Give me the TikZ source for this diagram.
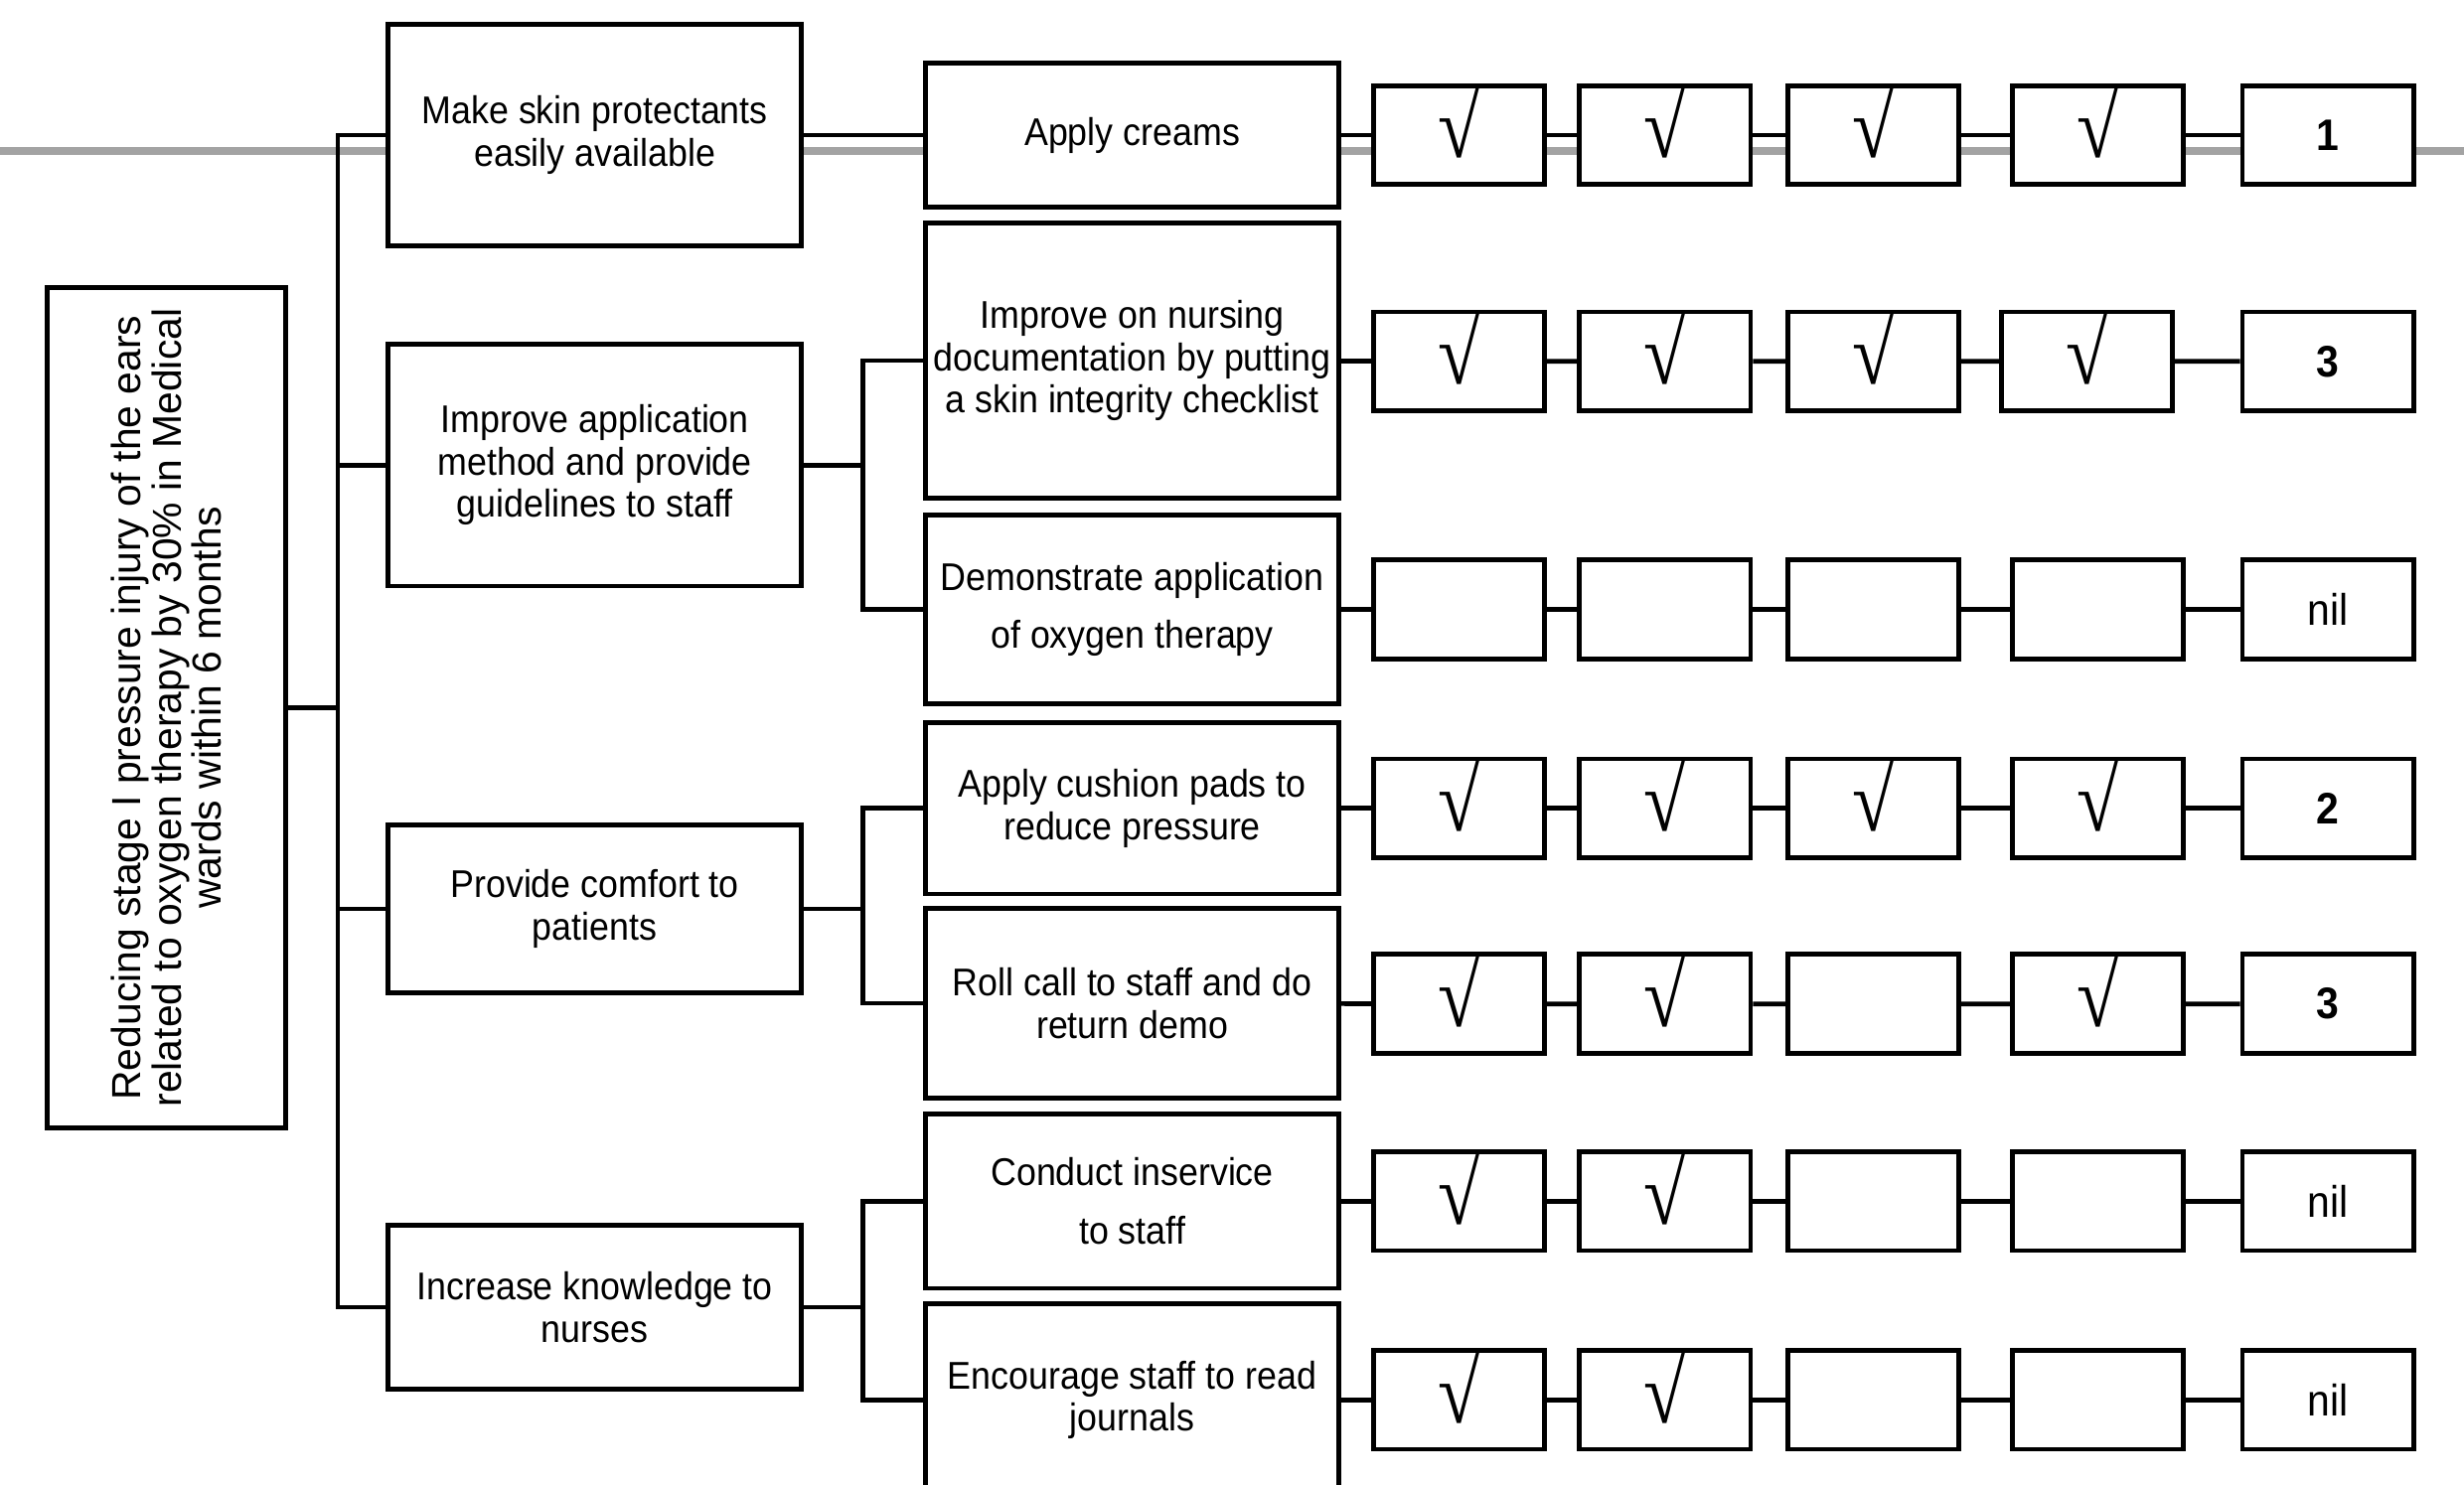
\documentclass[tikz,border=0pt]{standalone}
\usepackage{fontspec}
\setmainfont{Liberation Sans}[FakeStretch=0.92]
\newfontfamily\goalfont{Liberation Sans}
\newfontfamily\tickfont{Liberation Serif}[FakeStretch=0.86]
\usetikzlibrary{positioning}
\definecolor{rulegray}{RGB}{163,163,163}

\begin{document}
\begin{tikzpicture}[x=0.02cm, y=-0.02cm,
    box/.style={rectangle, draw, line width=1.7pt, fill=white, inner sep=1pt, align=center, font=\fontsize{14}{15.3}\selectfont},
    goalbox/.style={box, rotate=90, minimum width=10.7cm, minimum height=3.04cm, font=\goalfont\fontsize{14.7}{14.6}\selectfont},
    aim/.style={box, minimum width=5.26cm},
    act/.style={box, minimum width=5.26cm},
    cell/.style={box, minimum width=2.18cm, minimum height=1.26cm, inner sep=0pt},
    tick/.style={cell, text height=0.58cm, text depth=0cm, font=\tickfont\fontsize{32}{32}\selectfont},
    total/.style={cell, font=\bfseries\fontsize{16}{16}\selectfont},
    link/.style={line width=1.7pt}
]
    \useasboundingbox (0,0) rectangle (1568,945);
    \clip (0,0) rectangle (1568,945);

    % grey rule behind the first row
    \coordinate (edgeL) at (0,96);
    \coordinate (edgeR) at (1568,96);
    \draw[rulegray, line width=2.7pt] (edgeL) -- (edgeR);

    % Goal
    \node[goalbox] (goal) at (106,450.5) {Reducing stage I pressure injury  of the ears\\related to oxygen therapy by 30\% in Medical\\wards within 6 months};

    % Aims
    \node[aim, minimum height=2.82cm] (b1) at (378.5,86) {Make skin protectants\\easily available};
    \node[aim, minimum height=3.08cm] (b2) at (378.5,296) {Improve application\\method and provide\\guidelines to staff};
    \node[aim, minimum height=2.14cm] (b3) at (378.5,578.5) {Provide comfort to\\patients};
    \node[aim, minimum height=2.08cm] (b4) at (378.5,832) {Increase knowledge to\\nurses};

    % Actions
    \node[act, minimum height=1.84cm] (c1) at (720.5,86) {Apply creams};
    \node[act, minimum height=3.5cm] (c2) at (720.5,229.5) {Improve on nursing\\documentation by putting\\a skin integrity checklist};
    \node[act, minimum height=2.4cm] (c3) at (720.5,388) {Demonstrate application\\[2mm]of oxygen therapy};
    \node[act, minimum height=2.18cm] (c4) at (720.5,514.5) {Apply cushion pads to\\reduce pressure};
    \node[act, minimum height=2.42cm] (c5) at (720.5,638.5) {Roll call to staff and do\\return demo};
    \node[act, minimum height=2.22cm] (c6) at (720.5,764.5) {Conduct inservice\\[2mm]to staff};
    \node[act, minimum height=2.44cm] (c7) at (720.5,891) {Encourage staff to read\\journals};

    % Monitoring rows
    \node[tick] (r1a) at (928.5,86) {√};
    \node[tick] (r1b) at (1059.5,86) {√};
    \node[tick] (r1c) at (1192,86) {√};
    \node[tick] (r1d) at (1335,86) {√};
    \node[total] (r1e) at (1481.5,86) {1};

    \node[tick] (r2a) at (928.5,230) {√};
    \node[tick] (r2b) at (1059.5,230) {√};
    \node[tick] (r2c) at (1192,230) {√};
    \node[tick] (r2d) at (1328,230) {√};
    \node[total] (r2e) at (1481.5,230) {3};

    \node[cell] (r3a) at (928.5,388) {};
    \node[cell] (r3b) at (1059.5,388) {};
    \node[cell] (r3c) at (1192,388) {};
    \node[cell] (r3d) at (1335,388) {};
    \node[total] (r3e) at (1481.5,388) {\mdseries nil};

    \node[tick] (r4a) at (928.5,514.5) {√};
    \node[tick] (r4b) at (1059.5,514.5) {√};
    \node[tick] (r4c) at (1192,514.5) {√};
    \node[tick] (r4d) at (1335,514.5) {√};
    \node[total] (r4e) at (1481.5,514.5) {2};

    \node[tick] (r5a) at (928.5,639) {√};
    \node[tick] (r5b) at (1059.5,639) {√};
    \node[cell] (r5c) at (1192,639) {};
    \node[tick] (r5d) at (1335,639) {√};
    \node[total] (r5e) at (1481.5,639) {3};

    \node[tick] (r6a) at (928.5,764.5) {√};
    \node[tick] (r6b) at (1059.5,764.5) {√};
    \node[cell] (r6c) at (1192,764.5) {};
    \node[cell] (r6d) at (1335,764.5) {};
    \node[total] (r6e) at (1481.5,764.5) {\mdseries nil};

    \node[tick] (r7a) at (928.5,891) {√};
    \node[tick] (r7b) at (1059.5,891) {√};
    \node[cell] (r7c) at (1192,891) {};
    \node[cell] (r7d) at (1335,891) {};
    \node[total] (r7e) at (1481.5,891) {\mdseries nil};

    % Tree
    \coordinate (trunk) at (215,450.5);
    \draw[link] (goal) -- (trunk);
    \draw[link] (b1) -| (trunk) |- (b4);
    \draw[link] (trunk |- b2) -- (b2);
    \draw[link] (trunk |- b3) -- (b3);

    \coordinate (s2) at (549,296);
    \coordinate (s3) at (549,578.5);
    \coordinate (s4) at (549,832);
    \draw[link] (b1) -- (c1);
    \draw[link] (b2) -- (s2);
    \draw[link] (c2) -| (s2) |- (c3);
    \draw[link] (b3) -- (s3);
    \draw[link] (c4) -| (s3) |- (c5);
    \draw[link] (b4) -- (s4);
    \draw[link] (c6) -| (s4) |- (c7);

    % Rows
    \draw[link] (c1) -- (r1a) -- (r1b) -- (r1c) -- (r1d) -- (r1e);
    \draw[link] (c2) -- (r2a) -- (r2b) -- (r2c) -- (r2d) -- (r2e);
    \draw[link] (c3) -- (r3a) -- (r3b) -- (r3c) -- (r3d) -- (r3e);
    \draw[link] (c4) -- (r4a) -- (r4b) -- (r4c) -- (r4d) -- (r4e);
    \draw[link] (c5) -- (r5a) -- (r5b) -- (r5c) -- (r5d) -- (r5e);
    \draw[link] (c6) -- (r6a) -- (r6b) -- (r6c) -- (r6d) -- (r6e);
    \draw[link] (c7) -- (r7a) -- (r7b) -- (r7c) -- (r7d) -- (r7e);
\end{tikzpicture}
\end{document}
